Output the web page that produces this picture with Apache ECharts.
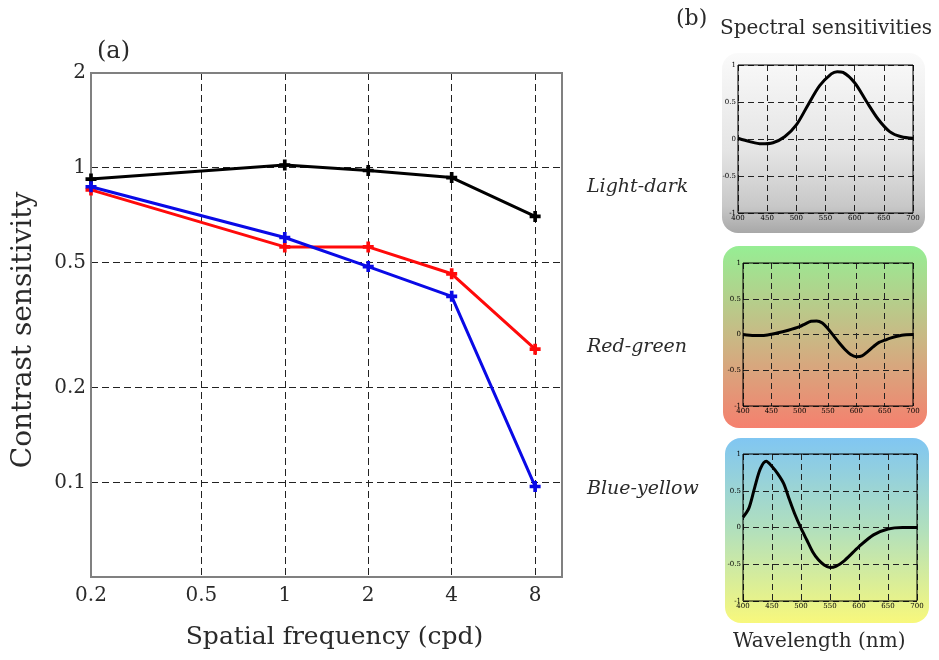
<!DOCTYPE html>
<html><head><meta charset="utf-8">
<script src="https://cdn.jsdelivr.net/npm/echarts@6/dist/echarts.min.js"></script>
<style>html,body{margin:0;padding:0;background:#fff}#c{width:939px;height:660px}</style>
</head><body><div id="c"></div>
<script>
// ---- Panel (a) data ----
const freqs = [0.2, 1, 2, 4, 8];
const lightDark = [0.92, 1.02, 0.98, 0.93, 0.70];
const redGreen = [0.85, 0.56, 0.56, 0.46, 0.265];
const blueYellow = [0.87, 0.60, 0.485, 0.39, 0.097];
const xTicks = [0.2, 0.5, 1, 2, 4, 8];
const yTicks = [0.1, 0.2, 0.5, 1, 2];

// ---- Panel (b) data ----
const wlLD = [400, 420, 440, 460, 480, 500, 520, 540, 560, 570, 580, 600, 620, 640, 660, 680, 700];
const sLD  = [0.01, -0.035, -0.065, -0.05, 0.03, 0.19, 0.46, 0.72, 0.88, 0.91, 0.9, 0.76, 0.51, 0.27, 0.1, 0.03, 0.01];
const wlRG = [400, 420, 440, 460, 480, 500, 510, 520, 530, 540, 550, 560, 570, 580, 590, 600, 610, 620, 630, 640, 650, 660, 680, 700];
const sRG  = [0, -0.015, -0.01, 0.02, 0.06, 0.11, 0.15, 0.185, 0.19, 0.16, 0.08, -0.02, -0.12, -0.21, -0.28, -0.31, -0.3, -0.24, -0.17, -0.11, -0.08, -0.05, -0.01, 0];
const wlBY = [400, 410, 420, 430, 440, 450, 460, 470, 480, 490, 500, 510, 520, 530, 540, 550, 560, 575, 600, 625, 650, 675, 700];
const sBY  = [0.14, 0.26, 0.54, 0.8, 0.9, 0.83, 0.73, 0.6, 0.38, 0.17, -0.01, -0.17, -0.33, -0.44, -0.51, -0.545, -0.53, -0.45, -0.26, -0.1, -0.02, 0, 0];

const serif = 'DejaVu Serif';
const plus = 'path://M-1,-3 L1,-3 L1,-1 L3,-1 L3,1 L1,1 L1,3 L-1,3 L-1,1 L-3,1 L-3,-1 L-1,-1 Z';
const pair = (xs, ys) => xs.map((x, i) => [x, ys[i]]);

const chart = echarts.init(document.getElementById('c'), null, {renderer: 'canvas'});

const grids = [
  {left: 91, top: 73, width: 471, height: 504, show: true, borderColor: '#808080', borderWidth: 2, backgroundColor: 'transparent', z: 3},
  {left: 738, top: 65, width: 175, height: 148, show: true, borderColor: '#000', borderWidth: 1, z: 3},
  {left: 743, top: 263, width: 170, height: 143, show: true, borderColor: '#000', borderWidth: 1, z: 3},
  {left: 743, top: 454, width: 174, height: 147, show: true, borderColor: '#000', borderWidth: 1, z: 3}
];

const smallX = (g) => ({
  type: 'value', gridIndex: g, min: 400, max: 700, interval: 50,
  axisLine: {show: false}, axisTick: {show: false},
  axisLabel: {fontFamily: serif, fontSize: 7, color: '#000', margin: 2},
  splitLine: {show: true, lineStyle: {color: '#222', type: [6, 4], width: 1}}
});
const smallY = (g) => ({
  type: 'value', gridIndex: g, min: -1, max: 1, interval: 0.5,
  axisLine: {show: false}, axisTick: {show: false},
  axisLabel: {fontFamily: serif, fontSize: 7, color: '#000', margin: 2},
  splitLine: {show: true, lineStyle: {color: '#222', type: [6, 4], width: 1}}
});

const option = {
  backgroundColor: '#fff',
  animation: false,
  grid: grids,
  xAxis: [
    {
      type: 'log', gridIndex: 0, logBase: 10, min: 0.2, max: 10,
      name: 'Spatial frequency (cpd)', nameLocation: 'middle', nameGap: 48,
      nameTextStyle: {fontFamily: serif, fontSize: 25, color: '#2a2a2a', padding: [0, 0, 0, 16]},
      axisLine: {show: false},
      axisTick: {show: false, customValues: xTicks},
      axisLabel: {customValues: xTicks, fontFamily: serif, fontSize: 20, color: '#2a2a2a', margin: 9},
      splitLine: {show: true, lineStyle: {color: '#222', type: [7, 4], width: 1}}
    },
    smallX(1), smallX(2), smallX(3)
  ],
  yAxis: [
    {
      type: 'log', gridIndex: 0, logBase: 10, min: 0.05, max: 2,
      name: 'Contrast sensitivity', nameLocation: 'middle', nameGap: 53,
      nameTextStyle: {fontFamily: serif, fontSize: 28, color: '#2a2a2a', padding: [0, 10, 0, 0]},
      axisLine: {show: false},
      axisTick: {show: false, customValues: yTicks},
      axisLabel: {customValues: yTicks, fontFamily: serif, fontSize: 20, color: '#2a2a2a', margin: 5},
      splitLine: {show: true, lineStyle: {color: '#222', type: [7, 4], width: 1}}
    },
    smallY(1), smallY(2), smallY(3)
  ],
  graphic: [
    {type: 'rect', z: -10, shape: {x: 722, y: 53, width: 203, height: 180, r: 16},
      style: {fill: new echarts.graphic.LinearGradient(0, 0, 0, 1, [
        {offset: 0, color: '#fafafa'}, {offset: 0.55, color: '#e4e4e4'}, {offset: 0.85, color: '#c8c8c8'}, {offset: 1, color: '#a8a8a8'}])}},
    {type: 'rect', z: -10, shape: {x: 723, y: 246, width: 204, height: 182, r: 16},
      style: {fill: new echarts.graphic.LinearGradient(0, 0, 0, 1, [
        {offset: 0, color: '#96ee94'}, {offset: 0.5, color: '#c9b985'}, {offset: 1, color: '#f5806e'}])}},
    {type: 'rect', z: -10, shape: {x: 725, y: 438, width: 204, height: 185, r: 16},
      style: {fill: new echarts.graphic.LinearGradient(0, 0, 0, 1, [
        {offset: 0, color: '#80c6f2'}, {offset: 0.5, color: '#b2e0bc'}, {offset: 1, color: '#f8f87c'}])}},
    {type: 'text', left: 97, top: 40, style: {text: '(a)', font: '24px "DejaVu Serif"', fill: '#2a2a2a'}},
    {type: 'text', left: 676, top: 8, style: {text: '(b)', font: '22px "DejaVu Serif"', fill: '#2a2a2a'}},
    {type: 'text', left: 720, top: 19, style: {text: 'Spectral sensitivities', font: '20px "DejaVu Serif"', fill: '#2a2a2a'}},
    {type: 'text', left: 587, top: 178, style: {text: 'Light-dark', font: 'italic 19px "DejaVu Serif"', fill: '#2a2a2a'}},
    {type: 'text', left: 587, top: 338, style: {text: 'Red-green', font: 'italic 19px "DejaVu Serif"', fill: '#2a2a2a'}},
    {type: 'text', left: 587, top: 480, style: {text: 'Blue-yellow', font: 'italic 19px "DejaVu Serif"', fill: '#2a2a2a'}},
    {type: 'text', left: 733, top: 632, style: {text: 'Wavelength (nm)', font: '20px "DejaVu Serif"', fill: '#2a2a2a'}}
  ],
  series: [
    {name: 'Light-dark', type: 'line', xAxisIndex: 0, yAxisIndex: 0, data: pair(freqs, lightDark),
      symbol: plus, symbolSize: 11, lineStyle: {color: '#000', width: 3}, itemStyle: {color: '#000'}, z: 5},
    {name: 'Red-green', type: 'line', xAxisIndex: 0, yAxisIndex: 0, data: pair(freqs, redGreen),
      symbol: plus, symbolSize: 11, lineStyle: {color: '#ff0a0a', width: 3}, itemStyle: {color: '#ff0a0a'}, z: 4},
    {name: 'Blue-yellow', type: 'line', xAxisIndex: 0, yAxisIndex: 0, data: pair(freqs, blueYellow),
      symbol: plus, symbolSize: 11, lineStyle: {color: '#0a0ae6', width: 3}, itemStyle: {color: '#0a0ae6'}, z: 6},
    {type: 'line', xAxisIndex: 1, yAxisIndex: 1, data: pair(wlLD, sLD), smooth: 0.3, showSymbol: false,
      lineStyle: {color: '#000', width: 3}},
    {type: 'line', xAxisIndex: 2, yAxisIndex: 2, data: pair(wlRG, sRG), smooth: 0.3, showSymbol: false,
      lineStyle: {color: '#000', width: 3}},
    {type: 'line', xAxisIndex: 3, yAxisIndex: 3, data: pair(wlBY, sBY), smooth: 0.3, showSymbol: false,
      lineStyle: {color: '#000', width: 3}}
  ]
};
chart.setOption(option);
</script>
</body></html>
